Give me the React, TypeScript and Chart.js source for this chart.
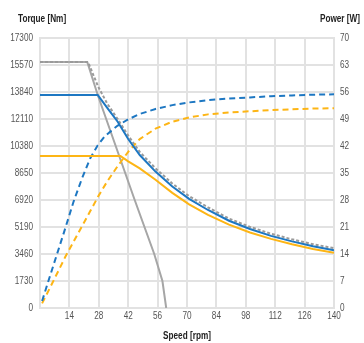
import React, { useEffect, useRef } from "react";
import { Chart, registerables } from "chart.js";

Chart.register(...registerables);

// Tick labels
const speedTicks = [0, 14, 28, 42, 56, 70, 84, 98, 112, 126, 140];
const torqueTicks = [0, 1730, 3460, 5190, 6920, 8650, 10380, 12110, 13840, 15570, 17300];
const powerTicks = [0, 7, 14, 21, 28, 35, 42, 49, 56, 63, 70];

// Blue solid torque curve
const blueTorqueSpeed = [0, 27.5, 30, 33, 37, 42, 47.5, 55, 63, 71, 80, 90, 100, 110, 120, 130, 140];
const blueTorque = [13650, 13650, 13190, 12650, 11935, 10830, 9800, 8740, 7780, 6990, 6280, 5590, 5060, 4620, 4270, 3960, 3700];

// Orange solid torque curve
const orangeTorqueSpeed = [0, 38.3, 42, 47.5, 55, 63, 71, 80, 90, 100, 110, 120, 130, 140];
const orangeTorque = [9740, 9740, 9400, 8950, 8220, 7380, 6640, 5960, 5345, 4840, 4430, 4080, 3785, 3540];

// Gray dashed torque curve
const grayDashSpeed = [0, 22.9, 25, 27.7, 32, 37, 42, 47.5, 55, 63, 71, 80, 90, 100, 110, 120, 130, 140];
const grayDashTorque = [15760, 15760, 15060, 14180, 13100, 12100, 11050, 10000, 8950, 7980, 7170, 6450, 5730, 5200, 4760, 4400, 4090, 3830];

// Gray solid torque curve
const graySolidSpeed = [0, 22.5, 27.5, 45.1, 54.4, 58.3, 60.1];
const graySolidTorque = [15760, 15760, 13650, 6920, 3460, 1730, 0];

// Blue dashed power curve
const bluePowerSpeed = [1, 4, 8, 12, 16, 20, 24, 27.5, 31, 37, 42, 47.5, 55, 63, 71, 80, 90, 100, 110, 120, 130, 140];
const bluePower = [1.8, 7, 13.8, 20.6, 27.6, 33.6, 38.9, 42.2, 44.6, 47.3, 48.9, 50.3, 51.6, 52.6, 53.3, 53.9, 54.3, 54.6, 54.9, 55.1, 55.3, 55.4];

// Orange dashed power curve
const orangePowerSpeed = [1, 6, 12, 18, 24, 28, 32, 37, 42, 47.5, 55, 63, 71, 80, 90, 100, 110, 120, 130, 140];
const orangePower = [1.2, 6.6, 13.2, 19.2, 25.2, 29.2, 32.8, 36.8, 40.5, 43.8, 46.5, 48.3, 49.4, 50.2, 50.7, 51.0, 51.3, 51.5, 51.7, 51.8];

const BLUE = "#1d77c2";
const ORANGE = "#fdb515";
const GRAY = "#a6a6a6";
const GRID = "#e2e2e2";
const FONT = "'Liberation Sans', Arial, sans-serif";
const NARROW = 0.82;

const pts = (xs: number[], ys: number[]) => xs.map((x, i) => ({ x, y: ys[i] }));

function narrowText(ctx: CanvasRenderingContext2D, text: string, x: number, y: number, align: CanvasTextAlign) {
  ctx.save();
  ctx.translate(x, y);
  ctx.scale(NARROW, 1);
  ctx.textAlign = align;
  ctx.fillText(text, 0, 0);
  ctx.restore();
}

const labelsPlugin = {
  id: "narrowLabels",
  afterDraw(chart: any) {
    const { ctx, chartArea, scales } = chart;
    ctx.save();
    ctx.textBaseline = "middle";
    ctx.font = `10px ${FONT}`;
    ctx.fillStyle = "#555";
    torqueTicks.forEach((v) => narrowText(ctx, String(v), chartArea.left - 7, scales.y.getPixelForValue(v), "right"));
    powerTicks.forEach((v) => narrowText(ctx, String(v), chartArea.right + 6, scales.y1.getPixelForValue(v), "left"));
    speedTicks.forEach((v) => {
      if (v === 0) return;
      narrowText(ctx, String(v), scales.x.getPixelForValue(v), chartArea.bottom + 8, "center");
    });
    ctx.font = `bold 10px ${FONT}`;
    ctx.fillStyle = "#222";
    narrowText(ctx, "Torque [Nm]", chartArea.left - 22, 19, "left");
    narrowText(ctx, "Power [W]", chartArea.right + 26, 19, "right");
    narrowText(ctx, "Speed [rpm]", (chartArea.left + chartArea.right) / 2, chartArea.bottom + 28, "center");
    ctx.restore();
  },
};

export default function App() {
  const ref = useRef<HTMLCanvasElement | null>(null);
  useEffect(() => {
    if (!ref.current) return;
    const common = { pointRadius: 0, fill: false, tension: 0, borderWidth: 2 };
    const chart = new Chart(ref.current, {
      type: "line",
      data: {
        datasets: [
          { ...common, label: "T blue", data: pts(blueTorqueSpeed, blueTorque), borderColor: BLUE, yAxisID: "y" },
          { ...common, label: "T orange", data: pts(orangeTorqueSpeed, orangeTorque), borderColor: ORANGE, yAxisID: "y" },
          { ...common, label: "P blue", data: pts(bluePowerSpeed, bluePower), borderColor: BLUE, borderDash: [6, 4], yAxisID: "y1" },
          { ...common, label: "P orange", data: pts(orangePowerSpeed, orangePower), borderColor: ORANGE, borderDash: [6, 4], yAxisID: "y1" },
          { ...common, label: "T max", data: pts(grayDashSpeed, grayDashTorque), borderColor: "#9a9a9a", borderDash: [3, 2], yAxisID: "y" },
          { ...common, label: "T limit", data: pts(graySolidSpeed, graySolidTorque), borderColor: GRAY, yAxisID: "y" },
        ],
      },
      options: {
        animation: false,
        responsive: false,
        layout: { padding: { top: 38, left: 0, right: 0, bottom: 0 } },
        plugins: { legend: { display: false }, tooltip: { enabled: false } },
        scales: {
          x: {
            type: "linear",
            min: speedTicks[0],
            max: speedTicks[speedTicks.length - 1],
            afterBuildTicks: (s: any) => { s.ticks = speedTicks.map((v) => ({ value: v })); },
            afterFit: (s: any) => { s.height = 35; },
            ticks: { display: false },
            grid: { color: GRID, lineWidth: 2, drawTicks: false },
            border: { color: GRID, width: 2 },
          },
          y: {
            position: "left",
            min: torqueTicks[0],
            max: torqueTicks[torqueTicks.length - 1],
            afterBuildTicks: (s: any) => { s.ticks = torqueTicks.map((v) => ({ value: v })); },
            afterFit: (s: any) => { s.width = 40; },
            ticks: { display: false },
            grid: { color: GRID, lineWidth: 2, drawTicks: false },
            border: { color: GRID, width: 2 },
          },
          y1: {
            position: "right",
            min: powerTicks[0],
            max: powerTicks[powerTicks.length - 1],
            afterBuildTicks: (s: any) => { s.ticks = powerTicks.map((v) => ({ value: v })); },
            afterFit: (s: any) => { s.width = 30; },
            ticks: { display: false },
            grid: { display: false, drawTicks: false },
            border: { color: GRID, width: 2 },
          },
        },
      },
      plugins: [labelsPlugin],
    } as any);
    return () => chart.destroy();
  }, []);
  return (
    <div style={{ position: "absolute", left: 0, top: 0, width: 364, height: 343 }}>
      <canvas ref={ref} width={364} height={343} style={{ display: "block" }} />
    </div>
  );
}
